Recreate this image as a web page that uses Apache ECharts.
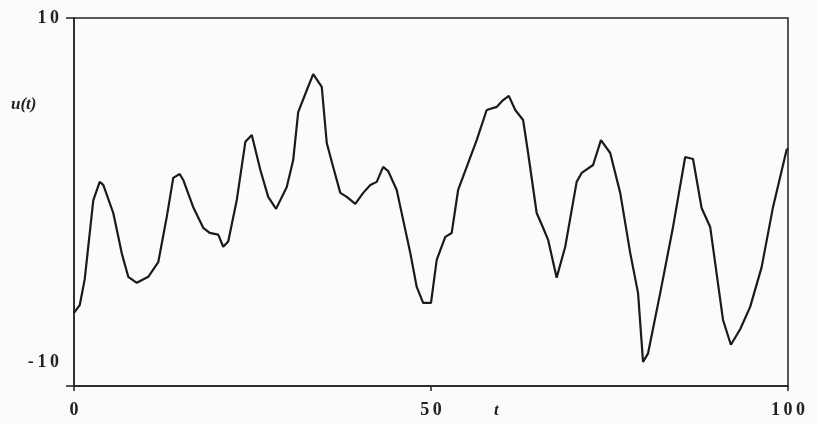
<!DOCTYPE html>
<html>
<head>
<meta charset="utf-8">
<script src="https://cdn.jsdelivr.net/npm/echarts@6/dist/echarts.min.js"></script>
<style>
html,body{margin:0;padding:0;background:#fbfbfa;}
#chart{width:817px;height:424px;}
</style>
</head>
<body>
<div id="chart"></div>
<script>
var tValues = [0, 0.8, 1.5, 2.7, 3.6, 4.1, 5.5, 6.7, 7.6, 8.8, 10.4, 11.8, 13.0, 13.9, 14.8, 15.3, 16.7, 18.1, 19.0, 20.2, 20.9, 21.6, 22.8, 24.0, 24.9, 26.1, 27.2, 28.3, 29.8, 30.7, 31.4, 32.6, 33.5, 34.7, 35.4, 36.3, 37.3, 38.2, 39.4, 40.5, 41.5, 42.4, 43.3, 44.0, 45.2, 46.1, 47.1, 48.0, 48.9, 50.0, 50.8, 52.0, 52.9, 53.8, 55.0, 56.4, 57.8, 59.2, 60.1, 60.9, 61.8, 62.9, 63.6, 64.8, 65.7, 66.4, 67.6, 68.8, 70.4, 71.1, 72.7, 73.8, 75.1, 76.5, 77.9, 79.0, 79.7, 80.4, 82.1, 83.9, 85.6, 86.7, 87.9, 89.1, 90.9, 92.0, 93.3, 94.7, 96.3, 97.9, 99.8, 100];
var uValues = [-7.15, -6.7, -5.2, -0.6, 0.47, 0.3, -1.34, -3.7, -5.05, -5.4, -5.05, -4.2, -1.55, 0.7, 0.93, 0.58, -1.0, -2.2, -2.5, -2.6, -3.3, -3.0, -0.58, 2.8, 3.2, 1.16, -0.4, -1.1, 0.17, 1.74, 4.53, 5.8, 6.74, 5.99, 2.73, 1.34, -0.17, -0.4, -0.81, -0.17, 0.29, 0.47, 1.34, 1.1, 0.0, -1.74, -3.66, -5.64, -6.57, -6.57, -4.07, -2.73, -2.5, 0.0, 1.34, 2.9, 4.65, 4.83, 5.23, 5.47, 4.65, 4.07, 2.15, -1.34, -2.2, -2.9, -5.1, -3.3, 0.47, 0.99, 1.45, 2.9, 2.15, -0.17, -3.66, -6.0, -10.0, -9.5, -6.0, -2.15, 1.92, 1.8, -1.05, -2.15, -7.56, -9.0, -8.1, -6.8, -4.5, -1.0, 2.33, 2.4];
var xTicks = [0, 50, 100];
var yLabels = [-10, 10];
var yMin = -11.4, yMax = 10;

var seriesData = tValues.map(function (t, i) { return [t, uValues[i]]; });
function spaced(v) { return String(v).split('').join('\u2009'); }

var chart = echarts.init(document.getElementById('chart'), null, {renderer: 'canvas'});
var labelFont = {color: '#222', fontFamily: 'Liberation Serif', fontWeight: 'bold', fontSize: 18};
chart.setOption({
  backgroundColor: '#fbfbfa',
  animation: false,
  grid: {left: 74, right: 29, top: 18, bottom: 38, show: true, borderColor: '#222', borderWidth: 1.5, backgroundColor: 'transparent'},
  xAxis: {
    type: 'value', min: 0, max: 100, interval: 50,
    axisLine: {show: true, onZero: false, lineStyle: {color: '#222', width: 1.5}},
    axisTick: {show: true, length: 5, inside: false, customValues: xTicks, lineStyle: {color: '#222', width: 1.5}},
    axisLabel: Object.assign({margin: 15, customValues: xTicks, formatter: function (v) { return spaced(v); }}, labelFont),
    splitLine: {show: false}
  },
  yAxis: {
    type: 'value', min: yMin, max: yMax,
    axisLine: {show: true, onZero: false, lineStyle: {color: '#222', width: 1.5}},
    axisTick: {show: true, length: 8, customValues: [yMin, yMax], lineStyle: {color: '#222', width: 1.5}},
    axisLabel: Object.assign({margin: 15, customValues: yLabels, formatter: function (v) { return spaced(v); }}, labelFont),
    splitLine: {show: false}
  },
  graphic: [
    {type: 'text', left: 11, top: 96, style: {text: 'u(t)', font: 'italic bold 17px "Liberation Serif"', fill: '#222'}},
    {type: 'text', left: 494, top: 402, style: {text: 't', font: 'italic bold 17px "Liberation Serif"', fill: '#222'}}
  ],
  series: [{
    type: 'line', data: seriesData, showSymbol: false, smooth: false,
    lineStyle: {color: '#1a1a1a', width: 2.2}
  }]
});
</script>
</body>
</html>
